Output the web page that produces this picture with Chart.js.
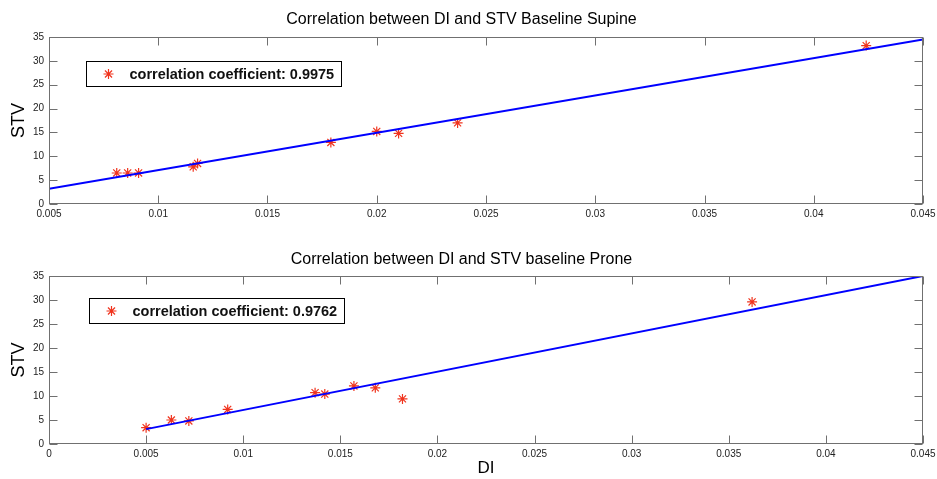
<!DOCTYPE html>
<html>
<head>
<meta charset="utf-8">
<script src="https://cdn.jsdelivr.net/npm/chart.js@4.4.1/dist/chart.umd.min.js"></script>
<style>
  html, body { margin: 0; padding: 0; background: #fff; }
  #wrap { position: relative; width: 937px; height: 479px; overflow: hidden; }
  .panel { position: absolute; left: 0; width: 937px; }
  #p1 { top: 0; height: 235px; }
  #p2 { top: 235px; height: 244px; }
</style>
</head>
<body>
<div id="wrap">
  <div class="panel" id="p1"><canvas id="c1"></canvas></div>
  <div class="panel" id="p2"><canvas id="c2"></canvas></div>
</div>
<script>
// Baseline supine measurements
const supineDI  = [0.0081, 0.0086, 0.0091, 0.0116, 0.0118, 0.0179, 0.0200, 0.0210, 0.0237, 0.0424];
const supineSTV = [6.5, 6.5, 6.5, 7.8, 8.5, 12.9, 15.2, 14.8, 17.0, 33.2];
const supineFitDI  = [0.005, 0.045];
const supineFitSTV = [3.2, 34.5];
const supineLabel  = 'correlation coefficient: 0.9975';

// Baseline prone measurements
const proneDI  = [0.0050, 0.0063, 0.0072, 0.0092, 0.0137, 0.0142, 0.0157, 0.0168, 0.0182, 0.0362];
const proneSTV = [3.4, 5.0, 4.8, 7.2, 10.7, 10.4, 12.1, 11.7, 9.4, 29.6];
const proneFitDI  = [0.005, 0.045];
const proneFitSTV = [3.1, 35.0];
const proneLabel  = 'correlation coefficient: 0.9762';

// Axis ticks
const supineXTicks  = [0.005, 0.01, 0.015, 0.02, 0.025, 0.03, 0.035, 0.04, 0.045];
const supineXLabels = ['0.005', '0.01', '0.015', '0.02', '0.025', '0.03', '0.035', '0.04', '0.045'];
const proneXTicks   = [0, 0.005, 0.01, 0.015, 0.02, 0.025, 0.03, 0.035, 0.04, 0.045];
const proneXLabels  = ['0', '0.005', '0.01', '0.015', '0.02', '0.025', '0.03', '0.035', '0.04', '0.045'];
const yTicks  = [0, 5, 10, 15, 20, 25, 30, 35];
const yLabels = ['0', '5', '10', '15', '20', '25', '30', '35'];

const FONT = "'Liberation Sans', Arial, Helvetica, sans-serif";
const MARKER_RED = 'rgb(240,52,30)';
const FRAME = '#707070';

function toPoints(xs, ys) { return xs.map((x, i) => ({ x, y: ys[i] })); }

function drawStar(ctx, cx, cy, r) {
  ctx.beginPath();
  for (let k = 0; k < 4; k++) {
    const a = k * Math.PI / 4;
    ctx.moveTo(cx - Math.cos(a) * r, cy - Math.sin(a) * r);
    ctx.lineTo(cx + Math.cos(a) * r, cy + Math.sin(a) * r);
  }
  ctx.stroke();
}

// Boxed axes with inward tick marks plus an inset legend
const boxedAxes = {
  id: 'boxedAxes',
  afterDatasetsDraw(chart, args, opts) {
    const { ctx, chartArea: a, scales: { x, y } } = chart;
    const L = opts.tickLength;
    ctx.save();
    ctx.strokeStyle = FRAME;
    ctx.lineWidth = 1;
    const l = Math.round(a.left) + 0.5, r = Math.round(a.right) - 0.5;
    const t = Math.round(a.top) + 0.5, b = Math.round(a.bottom) - 0.5;
    ctx.beginPath();
    x.ticks.forEach(tk => {
      const px = Math.round(x.getPixelForValue(tk.value)) + 0.5;
      ctx.moveTo(px, b); ctx.lineTo(px, b - L);
      ctx.moveTo(px, t); ctx.lineTo(px, t + L);
    });
    y.ticks.forEach(tk => {
      const py = Math.round(y.getPixelForValue(tk.value)) + 0.5;
      ctx.moveTo(l, py); ctx.lineTo(l + L, py);
      ctx.moveTo(r, py); ctx.lineTo(r - L, py);
    });
    ctx.stroke();
    ctx.strokeRect(l, t, r - l, b - t);

    // legend
    const ds = chart.data.datasets.find(d => d.type === 'scatter');
    const lx = Math.round(a.left + opts.legendX) + 0.5;
    const ly = Math.round(a.top + opts.legendY) + 0.5;
    const lw = opts.legendW, lh = opts.legendH;
    ctx.fillStyle = '#fff';
    ctx.fillRect(lx, ly, lw, lh);
    ctx.strokeStyle = '#000';
    ctx.strokeRect(lx, ly, lw, lh);
    ctx.strokeStyle = ds.borderColor;
    ctx.lineWidth = 1.2;
    drawStar(ctx, lx + 22, ly + lh / 2, 5);
    ctx.fillStyle = '#111';
    ctx.font = 'bold 14.5px ' + FONT;
    ctx.textBaseline = 'middle';
    ctx.textAlign = 'left';
    ctx.fillText(ds.label, lx + 43, ly + lh / 2 + 1);
    ctx.restore();
  }
};

function makeChart(canvasId, cfg) {
  return new Chart(document.getElementById(canvasId), {
    data: {
      datasets: [
        {
          type: 'line',
          label: 'fit',
          data: toPoints(cfg.fitX, cfg.fitY),
          borderColor: '#0000ff',
          borderWidth: 2,
          pointRadius: 0,
          fill: false,
          tension: 0
        },
        {
          type: 'scatter',
          label: cfg.label,
          data: toPoints(cfg.xs, cfg.ys),
          pointStyle: 'star',
          pointRadius: 5,
          borderColor: MARKER_RED,
          backgroundColor: MARKER_RED,
          borderWidth: 1.2
        }
      ]
    },
    options: {
      responsive: true,
      maintainAspectRatio: false,
      animation: false,
      devicePixelRatio: 1,
      events: [],
      layout: { padding: { left: 0, right: 14, top: 0, bottom: 0 } },
      plugins: {
        legend: { display: false },
        tooltip: { enabled: false },
        title: {
          display: true,
          text: cfg.title,
          color: '#000',
          font: { family: FONT, size: 16, weight: 'normal' },
          padding: cfg.titlePad
        },
        boxedAxes: cfg.box
      },
      scales: {
        x: {
          type: 'linear',
          min: cfg.xMin, max: 0.045,
          grid: { display: false, drawTicks: false },
          border: { display: false },
          afterBuildTicks: s => { s.ticks = cfg.xTicks.map(v => ({ value: v })); },
          afterFit: s => { s.height = cfg.xHeight; s.paddingRight = 0; s.paddingLeft = 0; },
          ticks: {
            autoSkip: false, maxRotation: 0, padding: 4,
            color: '#222', font: { family: FONT, size: 10 },
            callback: (v, i) => cfg.xLabels[i]
          },
          title: cfg.xTitle ? {
            display: true, text: cfg.xTitle, color: '#000',
            font: { family: FONT, size: 17 }, padding: { top: 0, bottom: 0 }
          } : { display: false }
        },
        y: {
          type: 'linear',
          min: 0, max: 35,
          grid: { display: false, drawTicks: false },
          border: { display: false },
          afterBuildTicks: s => { s.ticks = yTicks.map(v => ({ value: v })); },
          afterFit: s => { s.width = 49; },
          ticks: {
            padding: 5, color: '#222', font: { family: FONT, size: 10 },
            callback: (v, i) => yLabels[i]
          },
          title: {
            display: true, text: 'STV', color: '#000',
            font: { family: FONT, size: 18 }, padding: { top: 8, bottom: 0 }
          }
        }
      }
    },
    plugins: [boxedAxes]
  });
}

makeChart('c1', {
  xs: supineDI, ys: supineSTV, fitX: supineFitDI, fitY: supineFitSTV,
  label: supineLabel,
  title: 'Correlation between DI and STV Baseline Supine',
  titlePad: { top: 10.4, bottom: 7.4 },
  xMin: 0.005, xTicks: supineXTicks, xLabels: supineXLabels, xHeight: 31,
  box: { tickLength: 8, legendX: 37, legendY: 24, legendW: 255, legendH: 25 }
});

makeChart('c2', {
  xs: proneDI, ys: proneSTV, fitX: proneFitDI, fitY: proneFitSTV,
  label: proneLabel,
  title: 'Correlation between DI and STV baseline Prone',
  titlePad: { top: 14.9, bottom: 6.9 },
  xMin: 0, xTicks: proneXTicks, xLabels: proneXLabels, xHeight: 35, xTitle: 'DI',
  box: { tickLength: 8, legendX: 40, legendY: 21.5, legendW: 255, legendH: 25 }
});
</script>
</body>
</html>
